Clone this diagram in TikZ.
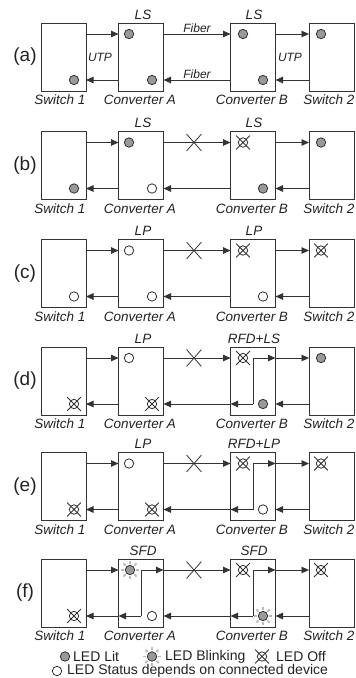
\documentclass[tikz,border=0pt]{standalone}
\usepackage{fontspec}
\setmainfont{Liberation Sans}
\usetikzlibrary{arrows.meta,calc,shapes.misc}
\definecolor{edge}{HTML}{333333}
\definecolor{ledgray}{HTML}{999999}
\definecolor{raygray}{HTML}{BBBBBB}
\definecolor{ink}{HTML}{222222}
\tikzset{
 box/.style={draw=edge,line width=0.9pt,minimum width=45pt,minimum height=68pt,inner sep=0pt,outer sep=0pt},
 conn/.style={draw=edge,line width=0.9pt,-{Triangle[length=7.5pt,width=6.5pt]}},
 wire/.style={draw=edge,line width=0.9pt},
 devname/.style={font=\fontsize{13.5}{15}\selectfont\itshape,inner sep=0pt,text=ink},
 cable/.style={font=\fontsize{12}{14}\selectfont\itshape,inner sep=0pt,text=ink},
 plabel/.style={font=\fontsize{19}{21}\selectfont,inner sep=0pt,text=ink},
 leg/.style={font=\fontsize{14}{16}\selectfont,inner sep=0pt,anchor=west,text=ink},
 ledlit/.style={circle,draw=edge,fill=ledgray,line width=0.8pt,minimum size=9.4pt,inner sep=0pt},
 ledopen/.style={circle,draw=edge,fill=white,line width=0.8pt,minimum size=9.4pt,inner sep=0pt},
 ledoffc/.style={circle,draw=edge,line width=0.8pt,minimum size=9.4pt,inner sep=0pt},
 ledoffx/.style={cross out,draw=edge,line width=0.8pt,minimum size=13pt,inner sep=0pt},
 brk/.style={cross out,draw=edge,line width=0.8pt,minimum width=14pt,minimum height=16pt,inner sep=0pt},
 ray/.style={draw=raygray,line width=1.8pt},
}
\newcommand{\LedLit}[2]{\node[ledlit] (#1) at (#2) {};}
\newcommand{\LedOpen}[2]{\node[ledopen] (#1) at (#2) {};}
\newcommand{\LedOff}[2]{\node[ledoffc] (#1) at (#2) {}; \node[ledoffx] (#1x) at (#2) {};}
\newcommand{\LedBlink}[2]{\coordinate (#1c) at (#2);
 \foreach \a in {0,45,...,315}{\draw[ray] ($(#1c)+(\a:6.3)$) -- ($(#1c)+(\a:9.3)$);}
 \node[ledlit] (#1) at (#2) {};}
\newcommand{\Panel}[3]{% #1 id, #2 top, #3 letter
 \node[box] (S1#1) at (63.5,#2+34) {};
 \node[box] (CA#1) at (141,#2+34) {};
 \node[box] (CB#1) at (253,#2+34) {};
 \node[box] (S2#1) at (331.5,#2+34) {};
 \foreach \b in {S1,CA,CB,S2}{
  \coordinate (\b#1tl) at ($(\b#1.north west)+(0,11)$);
  \coordinate (\b#1tr) at ($(\b#1.north east)+(0,11)$);
  \coordinate (\b#1bl) at ($(\b#1.north west)+(0,57)$);
  \coordinate (\b#1br) at ($(\b#1.north east)+(0,57)$);
 }
 \draw[conn] (S1#1tr) -- (CA#1tl);
 \draw[conn] (CA#1tr) -- (CB#1tl);
 \draw[conn] (CB#1tr) -- (S2#1tl);
 \draw[conn] (S2#1bl) -- (CB#1br);
 \draw[conn] (CB#1bl) -- (CA#1br);
 \draw[conn] (CA#1bl) -- (S1#1br);
 \node[plabel] (P#1) at (25,#2+34) {(#3)};
 \node[devname] (nS1#1) at (60,#2+77) {Switch 1};
 \node[devname] (nCA#1) at (140,#2+77) {Converter A};
 \node[devname] (nCB#1) at (252,#2+77) {Converter B};
 \node[devname] (nS2#1) at (329,#2+77) {Switch 2};
}
\newcommand{\Modes}[4]{% id, top, modeA, modeB
 \node[devname] (mA#1) at (143,#2-8.5) {#3};
 \node[devname] (mB#1) at (254,#2-8.5) {#4};
}
\newcommand{\Break}[2]{\node[brk] (X#1) at (194,#2+11) {};}
\newcommand{\Loop}[1]{%
 \coordinate (#1lt) at ($(#1.north)+(0,11)$);
 \coordinate (#1lb) at ($(#1.north)+(0,57)$);
 \draw[wire] (#1lt) -- (#1lb);
 \draw[conn] (#1lt) -- (#1tr);
 \draw[conn] (#1lb) -- (#1bl);
}
\begin{document}
\begin{tikzpicture}[x=1pt,y=-1pt]
\useasboundingbox (0,0) rectangle (356,678);
% (a)
\def\T{23}
\Panel{a}{\T}{a}
\Modes{a}{\T}{LS}{LS}
\node[cable] (f1) at (197,\T+5.5) {Fiber};
\node[cable] (f2) at (197,\T+51) {Fiber};
\node[cable] (u1) at (100,\T+34.5) {UTP};
\node[cable] (u2) at (290,\T+34.5) {UTP};
\LedLit{a1}{74,\T+57}
\LedLit{a2}{129,\T+11}
\LedLit{a3}{152,\T+57}
\LedLit{a4}{243,\T+11}
\LedLit{a5}{263,\T+57}
\LedLit{a6}{321,\T+11}
% (b)
\def\T{131.5}
\Panel{b}{\T}{b}
\Modes{b}{\T}{LS}{LS}
\Break{b}{\T}
\LedLit{b1}{74,\T+57}
\LedLit{b2}{129,\T+11}
\LedOpen{b3}{152,\T+57}
\LedOff{b4}{243,\T+11}
\LedLit{b5}{263,\T+57}
\LedLit{b6}{321,\T+11}
% (c)
\def\T{239.5}
\Panel{c}{\T}{c}
\Modes{c}{\T}{LP}{LP}
\Break{c}{\T}
\LedOpen{c1}{74,\T+57}
\LedOpen{c2}{129,\T+11}
\LedOpen{c3}{152,\T+57}
\LedOff{c4}{243,\T+11}
\LedOpen{c5}{263,\T+57}
\LedOff{c6}{321,\T+11}
% (d)
\def\T{347}
\Panel{d}{\T}{d}
\Modes{d}{\T}{LP}{RFD+LS}
\Break{d}{\T}
\Loop{CBd}
\LedOff{d1}{74,\T+57}
\LedOpen{d2}{129,\T+11}
\LedOff{d3}{152,\T+57}
\LedOff{d4}{243,\T+11}
\LedLit{d5}{263,\T+57}
\LedLit{d6}{321,\T+11}
% (e)
\def\T{452.5}
\Panel{e}{\T}{e}
\Modes{e}{\T}{LP}{RFD+LP}
\Break{e}{\T}
\Loop{CBe}
\LedOff{e1}{74,\T+57}
\LedOpen{e2}{129,\T+11}
\LedOff{e3}{152,\T+57}
\LedOff{e4}{243,\T+11}
\LedOpen{e5}{263,\T+57}
\LedOff{e6}{321,\T+11}
% (f)
\def\T{559}
\Panel{f}{\T}{f}
\Modes{f}{\T}{SFD}{SFD}
\Break{f}{\T}
\Loop{CAf}
\Loop{CBf}
\LedOff{f1}{74,\T+57}
\LedBlink{f2}{130,\T+11}
\LedOpen{f3}{152,\T+57}
\LedOff{f4}{243,\T+11}
\LedBlink{f5}{263,\T+57}
\LedOff{f6}{321,\T+11}
% legend
\LedLit{Llit}{65,656.5}
\node[leg] (tLit) at (73,656.5) {LED Lit};
\LedBlink{Lblink}{152,656.5}
\node[leg] (tBlink) at (165,656.5) {LED Blinking};
\LedOff{Loff}{262,656.5}
\node[leg] (tOff) at (276,656.5) {LED Off};
\LedOpen{Lopen}{57,671}
\node[leg] (tOpen) at (67,671) {LED Status depends on connected device};
\end{tikzpicture}
\end{document}
